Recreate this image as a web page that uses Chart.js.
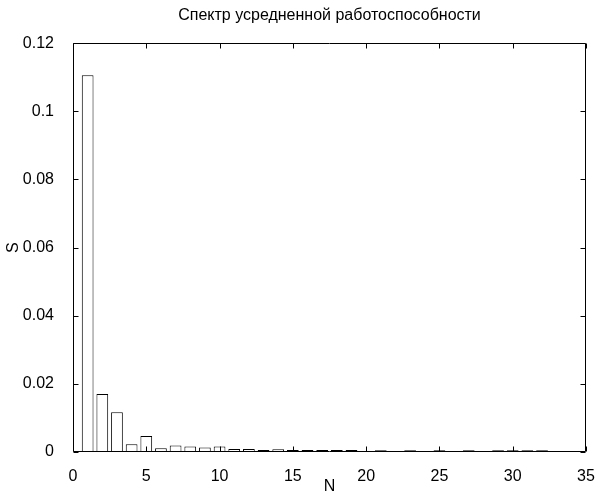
<!DOCTYPE html>
<html>
<head>
<meta charset="utf-8">
<script src="https://cdn.jsdelivr.net/npm/chart.js@4"></script>
<style>
    body { margin: 0; background: #fff; }
    #wrap { width: 596px; height: 495px; }
</style>
</head>
<body>
<div id="wrap"><canvas id="spectrChart" width="596" height="495"></canvas></div>
<script>
// номера гармоник и значения спектра
const harmonics = [1, 2, 3, 4, 5, 6, 7, 8, 9, 10, 11, 12, 13, 14, 15, 16,
    17, 18, 19, 20, 21, 22, 23, 24, 25, 26, 27, 28, 29, 30, 31, 32];
const spectrum = [0.1106, 0.0170, 0.0117, 0.0023, 0.0047, 0.0011, 0.0019, 0.0016,
    0.0013, 0.0016, 0.0009, 0.0009, 0.0006, 0.0008, 0.0006, 0.0006,
    0.0006, 0.0006, 0.0006, 0, 0.0005, 0, 0.0005, 0,
    0.0005, 0, 0.0005, 0, 0.0005, 0.0005, 0.0005, 0.0005];
const xTicks = [0, 5, 10, 15, 20, 25, 30, 35];
const yTicks = [0, 0.02, 0.04, 0.06, 0.08, 0.1, 0.12];
const chartTitle = 'Спектр усредненной работоспособности';

Chart.defaults.font.family = "'Liberation Sans', Arial, sans-serif";
Chart.defaults.color = '#000';

// рамка и засечки внутрь, как в MATLAB
const boxTicks = {
    id: 'boxTicks',
    afterDatasetsDraw(chart) {
        const ctx = chart.ctx;
        const a = chart.chartArea;
        const xs = chart.scales.x, ys = chart.scales.y;
        const len = 5;
        const L = Math.round(a.left) + 0.5, R = Math.round(a.right) - 0.5;
        const T = Math.round(a.top) + 0.5, B = Math.round(a.bottom) - 0.5;
        ctx.save();
        ctx.strokeStyle = '#000';
        ctx.lineWidth = 1;
        ctx.beginPath();
        ctx.rect(L, T, R - L, B - T);
        xTicks.forEach(function(v) {
            const px = Math.round(xs.getPixelForValue(v)) + 0.5;
            ctx.moveTo(px, B); ctx.lineTo(px, B - len);
            ctx.moveTo(px, T); ctx.lineTo(px, T + len);
        });
        yTicks.forEach(function(v) {
            const py = Math.round(ys.getPixelForValue(v)) + 0.5;
            ctx.moveTo(L, py); ctx.lineTo(L + len, py);
            ctx.moveTo(R, py); ctx.lineTo(R - len, py);
        });
        ctx.stroke();
        ctx.restore();
    }
};

const ctx = document.getElementById('spectrChart').getContext('2d');
const spectrChart = new Chart(ctx, {
    type: 'bar',
    data: {
        datasets: [{
            label: 'S',
            data: harmonics.map(function(n, i) { return { x: n, y: spectrum[i] }; }),
            backgroundColor: '#fff',
            borderColor: '#000',
            borderWidth: 1,
            borderSkipped: false,
            barPercentage: 1,
            categoryPercentage: 0.8
        }]
    },
    options: {
        responsive: false,
        animation: false,
        layout: { padding: { left: 0, right: 10, top: 0, bottom: 0 } },
        plugins: {
            legend: { display: false },
            tooltip: { enabled: false },
            title: {
                display: true,
                fullSize: false,
                text: chartTitle,
                font: { size: 16, weight: 'normal' },
                color: '#000',
                padding: { top: 6, bottom: 18 }
            }
        },
        scales: {
            x: {
                type: 'linear',
                offset: false,
                min: 0,
                max: 35,
                grid: { display: false, offset: false },
                border: { display: false },
                afterBuildTicks: function(scale) {
                    scale.ticks = xTicks.map(function(v) { return { value: v }; });
                },
                afterFit: function(scale) {
                    scale.height = 43;
                    scale.paddingRight = 0;
                    scale.paddingLeft = 0;
                },
                ticks: {
                    padding: 7,
                    maxRotation: 0,
                    font: { size: 16 },
                    color: '#000'
                },
                title: {
                    display: true,
                    text: 'N',
                    font: { size: 16, lineHeight: 1 },
                    color: '#000',
                    padding: { top: 0, bottom: 0 }
                }
            },
            y: {
                min: 0,
                max: 0.12,
                grid: { display: false },
                border: { display: false },
                afterBuildTicks: function(scale) {
                    scale.ticks = yTicks.map(function(v) { return { value: v }; });
                },
                afterFit: function(scale) { scale.width = 73; },
                ticks: {
                    padding: 11,
                    font: { size: 16 },
                    color: '#000',
                    callback: function(value) {
                        return String(Number(value.toFixed(2)));
                    }
                },
                title: {
                    display: true,
                    text: 'S',
                    font: { size: 16 },
                    color: '#000',
                    padding: { top: 4, bottom: 0 }
                }
            }
        }
    },
    plugins: [boxTicks]
});
</script>
</body>
</html>
